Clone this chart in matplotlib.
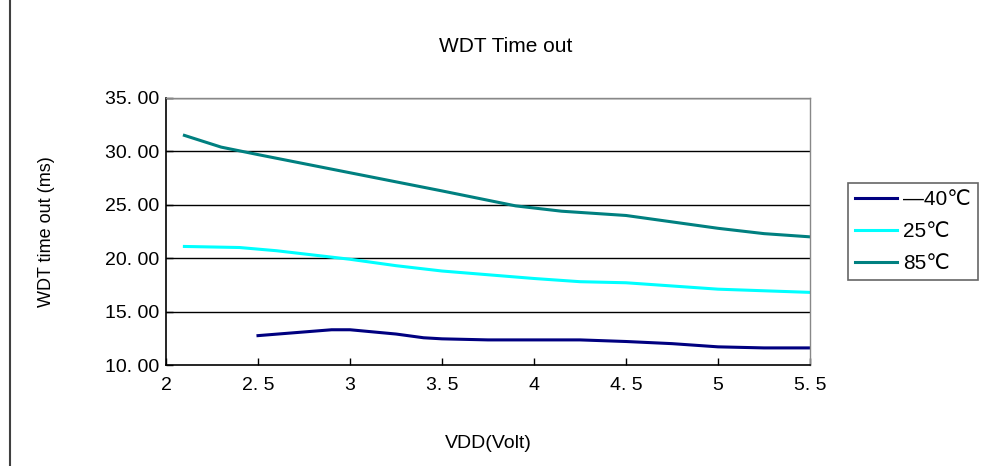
import matplotlib.pyplot as plt
from matplotlib.patches import Rectangle

# readings from the chart (VDD in volts, timeout in ms)
vdd_m40 = [2.5, 2.9, 3.0, 3.25, 3.4, 3.5, 3.75, 4.0, 4.25, 4.5, 4.75, 5.0, 5.25, 5.5]
t_m40 = [12.75, 13.3, 13.3, 12.9, 12.55, 12.45, 12.35, 12.35, 12.35, 12.2, 12.0, 11.7, 11.6, 11.6]

vdd_25 = [2.1, 2.4, 2.6, 3.0, 3.25, 3.5, 4.0, 4.25, 4.5, 5.0, 5.5]
t_25 = [21.1, 21.0, 20.7, 19.9, 19.3, 18.8, 18.1, 17.8, 17.7, 17.1, 16.8]

vdd_85 = [2.1, 2.3, 2.5, 3.0, 3.5, 3.9, 4.15, 4.5, 5.0, 5.25, 5.5]
t_85 = [31.5, 30.4, 29.7, 28.0, 26.3, 24.9, 24.4, 24.0, 22.8, 22.3, 22.0]

x_ticks = [2, 2.5, 3, 3.5, 4, 4.5, 5, 5.5]
x_labels = ["2", "2. 5", "3", "3. 5", "4", "4. 5", "5", "5. 5"]
y_ticks = [10, 15, 20, 25, 30, 35]
y_labels = ["10. 00", "15. 00", "20. 00", "25. 00", "30. 00", "35. 00"]

plt.rcParams['font.family'] = ['Liberation Sans', 'DejaVu Sans']

fig = plt.figure(figsize=(9.82, 4.66), dpi=100)
ax = fig.add_axes([166/982, 1-365/466, (810-166)/982, (365-98)/466])

# outer chart frame, runs off the right and bottom edges
fig.patches.append(Rectangle((10/982, -0.2), 1.2, 1.2 + (1-9/466), transform=fig.transFigure,
                             fill=False, edgecolor='#404040', linewidth=1.5))

ax.plot(vdd_m40, t_m40, color='#000080', linewidth=2.2, label='—40℃')
ax.plot(vdd_25, t_25, color='#00FFFF', linewidth=2.2, label='25℃')
ax.plot(vdd_85, t_85, color='#008080', linewidth=2.2, label='85℃')

ax.set_xlim(2, 5.5)
ax.set_ylim(10, 35)
ax.set_xticks(x_ticks)
ax.set_xticklabels(x_labels, fontsize=14)
ax.set_yticks(y_ticks)
ax.set_yticklabels(y_labels, fontsize=14)
ax.tick_params(direction='in', length=5, width=1, color='black')
ax.tick_params(axis='x', pad=9)
ax.tick_params(axis='y', pad=5)

for y in y_ticks[1:]:
    ax.axhline(y, color='black', linewidth=1, zorder=0)

for side in ['left', 'bottom']:
    ax.spines[side].set_color('black')
    ax.spines[side].set_linewidth(1.2)
for side in ['top', 'right']:
    ax.spines[side].set_color('#888888')
    ax.spines[side].set_linewidth(1)

fig.text(506/982, 1-47/466, "WDT Time out", ha='center', va='center', fontsize=15)
fig.text(488/982, 1-444/466, "VDD(Volt)", ha='center', va='center', fontsize=14)
fig.text(47/982, 1-232/466, "WDT time out (ms)", ha='center', va='center', rotation=90,
         fontsize=13)

leg = ax.legend(loc='upper left', bbox_to_anchor=(848/982, 1-183/466),
                bbox_transform=fig.transFigure, fontsize=15, frameon=True, fancybox=False,
                borderaxespad=0, handlelength=2.0, handletextpad=0.3, labelspacing=0.62,
                borderpad=0.35)
leg.get_frame().set_edgecolor('#404040')
leg.get_frame().set_linewidth(1.2)

fig.savefig('out.png', dpi=100)
